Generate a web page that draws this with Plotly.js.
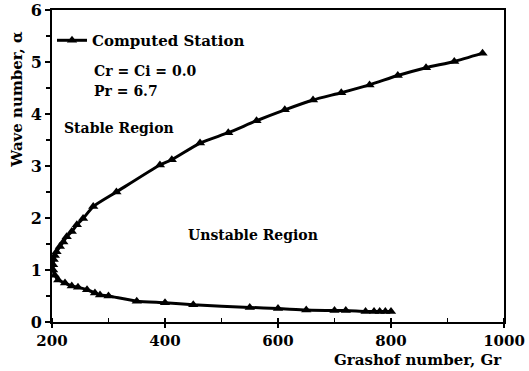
<!DOCTYPE html>
<html>
<head>
<meta charset="utf-8">
<script src="https://cdn.plot.ly/plotly-3.0.1.min.js"></script>
<style>html,body{margin:0;padding:0;background:#fff;}#chart{width:529px;height:371px;}</style>
</head>
<body>
<div id="chart"></div>
<script>
// Neutral stability curve, ordered along the curve: lower branch (right to left), nose, upper branch (left to right)
const grashof = [800, 790, 780, 770, 755, 720, 700, 650, 600, 550, 450, 400, 350, 300, 285, 276, 262, 246, 235, 223, 211, 205, 202,
                 202, 203, 205, 208, 214, 220, 226, 235, 244, 255, 273, 314, 391, 412, 462, 512, 562, 612, 662, 712, 762, 812, 862, 912, 962];
const waveNumber = [0.2, 0.2, 0.2, 0.2, 0.2, 0.22, 0.22, 0.23, 0.26, 0.28, 0.33, 0.37, 0.4, 0.5, 0.52, 0.56, 0.62, 0.67, 0.69, 0.75, 0.81, 0.9, 1.0,
                    1.1, 1.2, 1.28, 1.35, 1.45, 1.54, 1.64, 1.74, 1.87, 1.99, 2.22, 2.5, 3.02, 3.12, 3.44, 3.64, 3.87, 4.08, 4.27, 4.41, 4.56, 4.74, 4.89, 5.01, 5.17];
const seriesName = "Computed Station";
const xTicks = [200, 400, 600, 800, 1000];
const yTicks = [0, 1, 2, 3, 4, 5, 6];

const FONT = "DejaVu Serif";
const trace = {
  x: grashof, y: waveNumber, name: seriesName, type: "scatter", mode: "lines+markers",
  line: {color: "#000", width: 3, shape: "spline", smoothing: 0.6},
  marker: {symbol: "triangle-up", size: 9, color: "#000"}
};
const layout = {
  width: 529, height: 371,
  margin: {l: 52, r: 25, t: 10, b: 49},
  paper_bgcolor: "#fff", plot_bgcolor: "#fff",
  font: {family: FONT, size: 14, color: "#000", weight: "bold"},
  showlegend: true,
  legend: {x: 0.0, y: 0.955, xanchor: "left", yanchor: "top", bgcolor: "rgba(0,0,0,0)",
           font: {family: FONT, size: 15, color: "#000", weight: "bold"}},
  xaxis: {range: [200, 1000], tickvals: xTicks, ticktext: xTicks.map(String),
          showline: true, linewidth: 2, linecolor: "#000", mirror: true, zeroline: false, showgrid: false,
          ticks: "outside", ticklen: 4, tickwidth: 1.5, tickcolor: "#000",
          minor: {dtick: 100, ticks: "inside", ticklen: 4, tickwidth: 1.5, tickcolor: "#000"},
          tickfont: {family: FONT, size: 15, color: "#000", weight: "bold"}},
  yaxis: {range: [0, 6], tickvals: yTicks, ticktext: yTicks.map(String),
          showline: true, linewidth: 2, linecolor: "#000", mirror: true, zeroline: false, showgrid: false,
          ticks: "outside", ticklen: 5, tickwidth: 1.5, tickcolor: "#000",
          minor: {dtick: 0.5, ticks: "outside", ticklen: 4, tickwidth: 1.5, tickcolor: "#000"},
          tickfont: {family: FONT, size: 16, color: "#000", weight: "bold"}},
  annotations: [
    {text: "Cr = Ci = 0.0", xref: "paper", yref: "paper", x: 0.088, y: 0.805, xanchor: "left", yanchor: "middle", showarrow: false, font: {family: FONT, size: 14, color: "#000", weight: "bold"}},
    {text: "Pr = 6.7", xref: "paper", yref: "paper", x: 0.088, y: 0.74, xanchor: "left", yanchor: "middle", showarrow: false, font: {family: FONT, size: 14, color: "#000", weight: "bold"}},
    {text: "Stable Region", xref: "paper", yref: "paper", x: 0.022, y: 0.622, xanchor: "left", yanchor: "middle", showarrow: false, font: {family: FONT, size: 14, color: "#000", weight: "bold"}},
    {text: "Unstable Region", xref: "paper", yref: "paper", x: 0.296, y: 0.28, xanchor: "left", yanchor: "middle", showarrow: false, font: {family: FONT, size: 14, color: "#000", weight: "bold"}},
    {text: "Grashof number, Gr", xref: "paper", yref: "paper", x: 1.0, y: -0.122, xanchor: "right", yanchor: "middle", showarrow: false, font: {family: FONT, size: 15, color: "#000", weight: "bold"}},
    {text: "Wave number, α", xref: "paper", yref: "paper", x: -0.078, y: 0.715, xanchor: "center", yanchor: "middle", textangle: -90, showarrow: false, font: {family: FONT, size: 15, color: "#000", weight: "bold"}}
  ]
};
Plotly.newPlot("chart", [trace], layout, {displayModeBar: false, staticPlot: true});
</script>
</body>
</html>
